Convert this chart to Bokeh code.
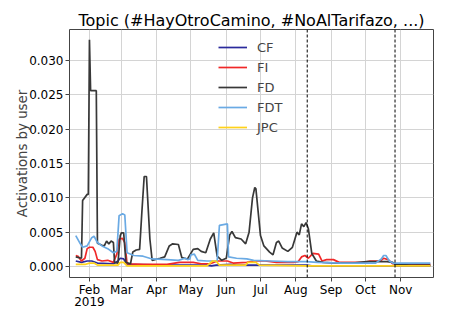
import pandas as pd
from datetime import datetime
from bokeh.plotting import figure
from bokeh.models import (Range1d, Span, Legend, LegendItem, MonthsTicker,
                          DatetimeTickFormatter, SingleIntervalTicker, NumeralTickFormatter)
from bokeh.embed import file_html
from bokeh.resources import INLINE

title = "Topic (#HayOtroCamino, #NoAlTarifazo, ...)"
y_label = "Activations by user"
event_dates = ["2019-08-11", "2019-10-27"]

cf_dates = ["2019-01-20", "2019-01-25", "2019-01-30", "2019-02-03", "2019-02-08", "2019-02-22",
            "2019-02-26", "2019-02-28", "2019-03-03", "2019-03-06", "2019-04-10", "2019-05-15",
            "2019-05-19", "2019-05-23", "2019-06-05", "2019-06-10", "2019-08-10", "2019-08-15",
            "2019-11-27"]
cf_vals = [0.0008, 0.0006, 0.0008, 0.0008, 0.0005, 0.0004,
           0.0008, 0.0012, 0.0011, 0.0003, 0.0002, 0.0002,
           0.0001, 0.0002, 0.0003, 0.0002, 0.0002, 0.0001,
           0.0001]

fi_dates = ["2019-01-20", "2019-01-22", "2019-01-25", "2019-01-28", "2019-01-30", "2019-02-01",
            "2019-02-04", "2019-02-06", "2019-02-08", "2019-02-12", "2019-02-17", "2019-02-22",
            "2019-02-25", "2019-02-27", "2019-03-02", "2019-03-04", "2019-03-06", "2019-03-20",
            "2019-04-10", "2019-04-21", "2019-05-03", "2019-05-10", "2019-05-18", "2019-05-24",
            "2019-06-02", "2019-06-07", "2019-06-19", "2019-06-25", "2019-07-05", "2019-07-15",
            "2019-07-30", "2019-08-03", "2019-08-06", "2019-08-09", "2019-08-12", "2019-08-16",
            "2019-08-21", "2019-08-24", "2019-08-28", "2019-09-03", "2019-09-08", "2019-09-30",
            "2019-10-05", "2019-10-14", "2019-10-17", "2019-10-21", "2019-10-25", "2019-11-27"]
fi_vals = [0.0016, 0.0015, 0.0008, 0.0012, 0.0026, 0.0028,
           0.0028, 0.0022, 0.0010, 0.0008, 0.0009, 0.0006,
           0.0018, 0.0040, 0.0041, 0.0035, 0.0004, 0.0003,
           0.0003, 0.0006, 0.0006, 0.0004, 0.0004, 0.0008,
           0.0008, 0.0005, 0.0006, 0.0008, 0.0008, 0.0006,
           0.0006, 0.0007, 0.0014, 0.0016, 0.0012, 0.0019,
           0.0018, 0.0008, 0.0010, 0.0010, 0.0006, 0.0006,
           0.0008, 0.0008, 0.0012, 0.0010, 0.0004, 0.0003]

fd_dates = ["2019-01-20", "2019-01-25", "2019-01-26", "2019-01-30", "2019-01-31", "2019-02-01",
            "2019-02-02", "2019-02-07", "2019-02-08", "2019-02-12", "2019-02-14", "2019-02-16",
            "2019-02-18", "2019-02-20", "2019-02-22", "2019-02-23", "2019-02-26", "2019-02-28",
            "2019-03-01", "2019-03-03", "2019-03-05", "2019-03-09", "2019-03-11", "2019-03-14",
            "2019-03-17", "2019-03-19", "2019-03-21", "2019-03-23", "2019-03-26", "2019-03-28",
            "2019-04-04", "2019-04-08", "2019-04-12", "2019-04-15", "2019-04-20", "2019-04-23",
            "2019-04-28", "2019-05-03", "2019-05-07", "2019-05-10", "2019-05-14", "2019-05-18",
            "2019-05-21", "2019-05-24", "2019-05-28", "2019-06-01", "2019-06-04", "2019-06-06",
            "2019-06-09", "2019-06-14", "2019-06-18", "2019-06-21", "2019-06-24", "2019-06-26",
            "2019-06-27", "2019-07-01", "2019-07-04", "2019-07-09", "2019-07-12", "2019-07-15",
            "2019-07-17", "2019-07-20", "2019-07-25", "2019-07-29", "2019-08-02", "2019-08-04",
            "2019-08-06", "2019-08-08", "2019-08-10", "2019-08-12", "2019-08-15", "2019-08-19",
            "2019-08-25", "2019-09-05", "2019-09-20", "2019-10-02", "2019-10-20", "2019-10-25",
            "2019-10-27", "2019-11-10", "2019-11-27"]
fd_vals = [0.0014, 0.0012, 0.0096, 0.0105, 0.0105, 0.0330,
           0.0256, 0.0256, 0.0034, 0.0031, 0.0030, 0.0037,
           0.0033, 0.0037, 0.0035, 0.0006, 0.0005, 0.0045,
           0.0049, 0.0049, 0.0006, 0.0004, 0.0021, 0.0024,
           0.0025, 0.0080, 0.0131, 0.0131, 0.0040, 0.0009,
           0.0012, 0.0014, 0.0030, 0.0033, 0.0032, 0.0013,
           0.0011, 0.0025, 0.0026, 0.0022, 0.0020, 0.0040,
           0.0049, 0.0015, 0.0009, 0.0012, 0.0046, 0.0051,
           0.0042, 0.0040, 0.0033, 0.0050, 0.0100, 0.0115,
           0.0113, 0.0045, 0.0030, 0.0021, 0.0017, 0.0035,
           0.0037, 0.0027, 0.0022, 0.0028, 0.0050, 0.0046,
           0.0062, 0.0058, 0.0064, 0.0055, 0.0019, 0.0008,
           0.0006, 0.0005, 0.0005, 0.0007, 0.0007, 0.0006,
           0.0003, 0.0002, 0.0002]

fdt_dates = ["2019-01-20", "2019-01-24", "2019-01-26", "2019-01-30", "2019-02-03", "2019-02-05",
             "2019-02-08", "2019-02-12", "2019-02-17", "2019-02-22", "2019-02-25", "2019-02-27",
             "2019-03-02", "2019-03-04", "2019-03-06", "2019-03-12", "2019-03-20", "2019-03-28",
             "2019-04-10", "2019-04-20", "2019-04-26", "2019-04-28", "2019-04-30", "2019-05-01",
             "2019-05-04", "2019-05-07", "2019-05-15", "2019-05-24", "2019-05-26", "2019-06-02",
             "2019-06-03", "2019-06-10", "2019-06-19", "2019-06-25", "2019-07-10", "2019-07-25",
             "2019-08-10", "2019-08-20", "2019-09-10", "2019-10-10", "2019-10-15", "2019-10-17",
             "2019-10-19", "2019-10-22", "2019-10-25", "2019-11-27"]
fdt_vals = [0.0045, 0.0033, 0.0028, 0.0030, 0.0042, 0.0044,
            0.0035, 0.0030, 0.0026, 0.0020, 0.0022, 0.0074,
            0.0077, 0.0075, 0.0020, 0.0016, 0.0015, 0.0011,
            0.0010, 0.0009, 0.0012, 0.0010, 0.0011, 0.0017,
            0.0018, 0.0009, 0.0008, 0.0008, 0.0060, 0.0062,
            0.0014, 0.0012, 0.0011, 0.0009, 0.0008, 0.0007,
            0.0007, 0.0006, 0.0005, 0.0005, 0.0011, 0.0016,
            0.0016, 0.0008, 0.0005, 0.0005]

jpc_dates = ["2019-01-20", "2019-01-28", "2019-02-01", "2019-02-05", "2019-02-08", "2019-02-26",
             "2019-02-28", "2019-03-03", "2019-03-06", "2019-05-15", "2019-05-20", "2019-05-23",
             "2019-05-26", "2019-06-18", "2019-06-20", "2019-06-27", "2019-06-30", "2019-08-10",
             "2019-11-27"]
jpc_vals = [0.0003, 0.0003, 0.0005, 0.0005, 0.0002, 0.0002,
            0.0006, 0.0006, 0.0001, 0.0001, 0.0008, 0.0008,
            0.0002, 0.0002, 0.0006, 0.0006, 0.0002, 0.0001,
            0.0001]

series = [
    ("CF", cf_dates, cf_vals, "#2a2a9c"),
    ("FI", fi_dates, fi_vals, "#f02828"),
    ("FD", fd_dates, fd_vals, "#383838"),
    ("FDT", fdt_dates, fdt_vals, "#6aaae4"),
    ("JPC", jpc_dates, jpc_vals, "#ffd21a"),
]

FONT = "DejaVu Sans"

p = figure(width=450, height=322, x_axis_type="datetime",
           x_range=Range1d(datetime(2019, 1, 14, 12), datetime(2019, 11, 29, 18)),
           y_range=Range1d(-0.0016, 0.0345),
           output_backend="svg", toolbar_location=None,
           min_border_left=69, min_border_right=17, min_border_top=29, min_border_bottom=45)

p.title.text = title
p.title.align = "center"
p.title.text_font = FONT
p.title.text_font_size = "16px"
p.title.text_font_style = "normal"
p.title.text_color = "black"
p.title.standoff = 0

p.outline_line_color = "#444444"
p.outline_line_width = 1
p.background_fill_color = "white"
p.border_fill_color = "white"

month_ticker = MonthsTicker(months=list(range(12)))
p.xaxis.ticker = month_ticker
p.xaxis.formatter = DatetimeTickFormatter(
    months="%b", context=DatetimeTickFormatter(months="%Y"),
    context_which="start", context_location="below")
p.yaxis.ticker = SingleIntervalTicker(interval=0.005)
p.yaxis.formatter = NumeralTickFormatter(format="0.000")
p.xgrid.ticker = month_ticker
p.ygrid.ticker = SingleIntervalTicker(interval=0.005)
p.grid.grid_line_color = "#d4d4d4"
p.grid.grid_line_width = 1

for ax in (p.xaxis, p.yaxis):
    ax.axis_line_color = None
    ax.major_tick_line_color = "#444444"
    ax.major_tick_out = 4
    ax.major_tick_in = 0
    ax.minor_tick_line_color = None
    ax.major_label_text_font = FONT
    ax.major_label_text_font_size = "12px"
    ax.major_label_text_color = "black"
    ax.major_label_standoff = 2

p.xaxis.major_label_standoff = 1
p.xaxis.major_label_text_line_height = 0.9

p.yaxis.axis_label = y_label
p.yaxis.axis_label_text_font = FONT
p.yaxis.axis_label_text_font_size = "13.3px"
p.yaxis.axis_label_text_font_style = "normal"
p.yaxis.axis_label_standoff = -4

items = []
for name, d, v, c in series:
    r = p.line(pd.to_datetime(d), v, line_color=c, line_width=1.7)
    items.append(LegendItem(label=name, renderers=[r]))

for d in event_dates:
    p.add_layout(Span(location=pd.Timestamp(d).value / 1e6, dimension="height",
                      line_color="black", line_width=1, line_dash="3 2"))

legend = Legend(items=items, location=(149, 140), padding=0, margin=0, spacing=0,
                glyph_width=29, glyph_height=20, label_height=20, label_standoff=10,
                label_text_font=FONT, label_text_font_size="13px",
                border_line_alpha=0, background_fill_alpha=0)
p.add_layout(legend)

open("out.html", "w").write(file_html(p, INLINE))
